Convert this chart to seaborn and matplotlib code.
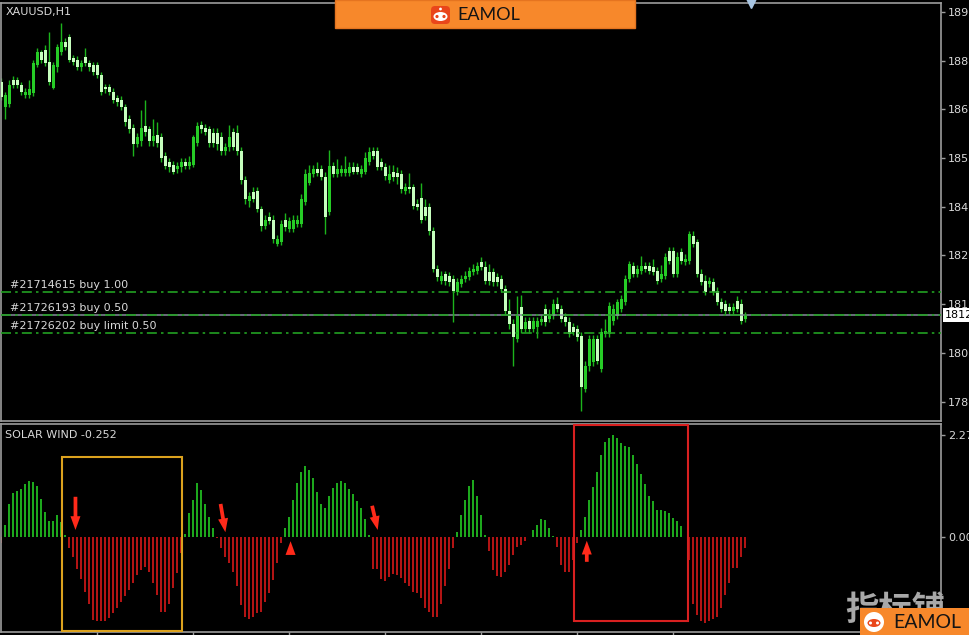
import numpy as np
import pandas as pd
import matplotlib
matplotlib.use('Agg')
import matplotlib.pyplot as plt
import matplotlib.transforms as mtransforms
from matplotlib.patches import Rectangle, FancyBboxPatch, Ellipse, Circle
import seaborn as sns

sns.set_style('dark', {'axes.facecolor': 'black', 'figure.facecolor': 'black'})
plt.rcParams['font.family'] = ['DejaVu Sans', 'Noto Sans CJK SC']

# XAUUSD H1 candles
opens = [1876.5, 1869.7, 1870.3, 1877.1, 1877.1, 1875.7, 1873.0, 1873.0, 1873.5, 1881.2,
         1884.7, 1885.3, 1882.0, 1874.9, 1880.4, 1884.7, 1887.4, 1888.8, 1883.1, 1882.5,
         1880.4, 1883.3, 1881.7, 1881.2, 1881.2, 1878.4, 1875.2, 1875.2, 1873.8, 1872.2,
         1871.6, 1869.7, 1866.2, 1864.0, 1859.4, 1860.2, 1864.3, 1863.5, 1860.2, 1862.1,
         1861.3, 1856.1, 1854.7, 1853.9, 1852.6, 1853.1, 1854.7, 1853.4, 1853.9, 1859.9,
         1864.8, 1864.0, 1863.5, 1862.6, 1862.6, 1861.3, 1857.5, 1858.6, 1862.9, 1862.6,
         1857.5, 1849.8, 1843.9, 1846.3, 1846.6, 1841.7, 1837.0, 1839.5, 1838.9, 1832.1,
         1832.7, 1838.9, 1836.2, 1836.2, 1837.6, 1837.6, 1843.6, 1849.0, 1851.2, 1852.6,
         1852.6, 1850.4, 1840.9, 1853.4, 1851.2, 1851.7, 1851.7, 1851.7, 1853.1, 1853.1,
         1851.2, 1852.0, 1854.5, 1857.5, 1857.5, 1854.5, 1853.1, 1849.8, 1852.0, 1851.7,
         1851.2, 1846.6, 1847.9, 1847.7, 1843.0, 1844.9, 1842.2, 1842.2, 1835.7, 1825.3,
         1822.1, 1824.0, 1823.4, 1822.6, 1819.1, 1821.2, 1822.6, 1823.1, 1824.5, 1824.8,
         1827.2, 1825.9, 1824.5, 1824.5, 1823.1, 1822.6, 1819.9, 1813.9, 1810.3, 1806.3,
         1815.0, 1809.0, 1811.2, 1809.0, 1809.5, 1810.9, 1814.4, 1811.7, 1812.5, 1815.8,
         1814.4, 1812.2, 1810.9, 1809.5, 1809.0, 1807.1, 1792.6, 1798.9, 1800.0, 1806.3,
         1798.1, 1807.6, 1807.6, 1811.2, 1812.5, 1814.4, 1816.3, 1822.6, 1826.1, 1824.0,
         1824.8, 1826.1, 1826.1, 1825.9, 1824.8, 1822.6, 1823.4, 1830.2, 1830.2, 1824.0,
         1830.0, 1827.2, 1827.5, 1834.3, 1832.7, 1824.0, 1822.1, 1821.2, 1821.8, 1819.3,
         1816.3, 1815.8, 1815.0, 1813.9, 1816.6, 1815.8, 1811.7]
highs = [1877.6, 1873.8, 1877.1, 1878.2, 1877.9, 1876.5, 1874.9, 1877.1, 1882.5, 1885.8,
         1885.3, 1886.6, 1890.2, 1882.0, 1886.9, 1892.6, 1888.5, 1889.6, 1883.9, 1883.6,
         1882.5, 1885.8, 1882.5, 1882.0, 1882.0, 1879.3, 1876.0, 1876.0, 1874.9, 1873.0,
         1872.7, 1870.5, 1867.3, 1865.1, 1862.4, 1868.9, 1871.6, 1864.5, 1866.2, 1865.6,
         1862.4, 1857.2, 1855.8, 1855.0, 1854.5, 1855.8, 1855.8, 1856.1, 1862.1, 1865.4,
         1865.9, 1865.1, 1864.5, 1864.0, 1864.0, 1862.9, 1859.9, 1864.8, 1864.0, 1864.8,
         1858.6, 1850.9, 1846.3, 1847.7, 1847.7, 1842.5, 1840.0, 1840.9, 1840.0, 1834.6,
         1838.9, 1840.6, 1839.5, 1840.0, 1840.0, 1845.8, 1852.6, 1853.7, 1853.9, 1854.5,
         1853.9, 1852.0, 1858.0, 1854.7, 1855.3, 1853.9, 1856.1, 1854.7, 1854.5, 1854.2,
         1853.9, 1857.2, 1858.6, 1858.8, 1858.6, 1855.8, 1854.2, 1853.9, 1853.7, 1853.1,
         1852.3, 1849.0, 1851.7, 1848.5, 1844.4, 1849.0, 1844.4, 1843.3, 1836.8, 1826.4,
         1824.8, 1824.8, 1824.5, 1823.7, 1822.9, 1823.7, 1824.8, 1825.9, 1826.7, 1827.2,
         1828.6, 1827.5, 1826.7, 1825.6, 1824.2, 1823.7, 1821.0, 1817.2, 1811.7, 1818.0,
         1818.2, 1812.2, 1812.2, 1812.2, 1812.2, 1812.8, 1815.8, 1814.4, 1817.2, 1817.7,
         1815.5, 1813.3, 1812.2, 1810.6, 1810.1, 1808.2, 1800.3, 1807.3, 1807.3, 1807.3,
         1809.3, 1811.7, 1816.3, 1815.8, 1817.2, 1818.2, 1823.7, 1827.5, 1827.2, 1826.4,
         1828.9, 1827.2, 1827.2, 1828.1, 1825.9, 1826.4, 1829.7, 1831.3, 1831.3, 1830.0,
         1831.0, 1829.4, 1835.7, 1835.7, 1833.5, 1825.3, 1823.7, 1823.1, 1822.9, 1820.4,
         1817.4, 1816.9, 1816.1, 1816.1, 1818.0, 1817.2, 1813.6]
lows = [1871.6, 1866.2, 1869.5, 1874.9, 1874.9, 1873.0, 1872.2, 1872.2, 1872.7, 1880.4,
        1881.7, 1880.9, 1875.7, 1874.4, 1879.3, 1883.9, 1885.3, 1882.0, 1881.2, 1879.8,
        1879.5, 1880.9, 1879.5, 1878.4, 1877.6, 1873.0, 1873.5, 1873.0, 1870.8, 1870.0,
        1868.9, 1864.5, 1862.4, 1856.1, 1858.6, 1859.1, 1861.8, 1859.1, 1859.1, 1858.8,
        1854.7, 1852.6, 1852.0, 1851.2, 1851.5, 1852.0, 1852.6, 1852.6, 1853.1, 1859.1,
        1862.6, 1862.1, 1858.8, 1858.8, 1858.0, 1856.6, 1856.6, 1857.5, 1858.0, 1856.6,
        1848.5, 1843.0, 1842.2, 1843.6, 1840.9, 1835.7, 1836.2, 1837.6, 1832.4, 1831.6,
        1831.9, 1835.7, 1835.4, 1835.4, 1836.8, 1836.8, 1842.8, 1848.2, 1850.4, 1850.9,
        1849.6, 1834.9, 1840.0, 1850.4, 1850.4, 1850.9, 1850.9, 1850.9, 1851.2, 1851.2,
        1850.4, 1851.2, 1853.7, 1855.3, 1852.3, 1852.3, 1849.8, 1849.0, 1849.3, 1848.5,
        1846.0, 1845.8, 1846.0, 1841.7, 1841.4, 1837.9, 1838.9, 1834.6, 1824.5, 1822.1,
        1821.2, 1821.0, 1820.7, 1810.9, 1818.2, 1820.4, 1821.8, 1822.3, 1823.7, 1824.0,
        1825.1, 1821.2, 1821.0, 1820.7, 1820.7, 1819.1, 1812.8, 1809.0, 1798.9, 1805.4,
        1807.9, 1808.2, 1807.9, 1808.2, 1806.5, 1810.1, 1809.8, 1810.9, 1811.7, 1813.6,
        1810.9, 1809.8, 1806.8, 1807.3, 1805.7, 1786.6, 1791.8, 1797.5, 1798.9, 1799.4,
        1797.3, 1806.8, 1806.8, 1810.1, 1811.7, 1813.6, 1815.5, 1821.8, 1823.1, 1823.1,
        1824.0, 1824.5, 1824.0, 1823.7, 1821.2, 1821.8, 1822.6, 1826.7, 1823.1, 1823.1,
        1826.7, 1826.4, 1826.7, 1831.3, 1823.1, 1821.0, 1818.2, 1820.4, 1818.2, 1815.5,
        1813.6, 1812.8, 1813.1, 1813.1, 1813.6, 1810.3, 1810.9]
closes = [1872.4, 1873.0, 1875.7, 1875.7, 1875.7, 1873.8, 1873.8, 1874.4, 1881.7, 1884.7,
          1882.5, 1881.7, 1876.5, 1881.2, 1886.1, 1887.4, 1886.1, 1882.5, 1882.0, 1880.6,
          1881.7, 1881.7, 1880.4, 1879.3, 1878.4, 1873.8, 1874.4, 1873.8, 1871.6, 1871.1,
          1869.7, 1865.6, 1863.5, 1859.4, 1861.3, 1864.0, 1862.9, 1860.2, 1861.6, 1859.9,
          1855.8, 1853.4, 1853.1, 1852.0, 1853.4, 1854.5, 1853.4, 1854.5, 1861.3, 1864.3,
          1863.5, 1862.9, 1859.9, 1859.9, 1859.4, 1857.5, 1858.8, 1861.3, 1858.8, 1857.5,
          1849.8, 1844.4, 1845.2, 1844.4, 1841.7, 1837.0, 1838.9, 1838.4, 1833.5, 1833.5,
          1837.6, 1836.8, 1838.4, 1838.9, 1838.9, 1844.4, 1851.2, 1851.7, 1852.6, 1851.7,
          1850.4, 1839.5, 1853.4, 1851.2, 1852.6, 1852.6, 1852.6, 1853.1, 1852.0, 1852.0,
          1852.6, 1855.8, 1857.2, 1856.1, 1853.1, 1853.1, 1850.7, 1851.2, 1850.4, 1850.4,
          1847.1, 1847.9, 1847.1, 1842.5, 1842.2, 1838.9, 1839.8, 1835.7, 1825.3, 1823.1,
          1823.4, 1822.1, 1821.8, 1819.3, 1821.8, 1822.6, 1823.4, 1824.8, 1825.3, 1826.1,
          1825.9, 1822.1, 1822.1, 1821.8, 1821.8, 1819.9, 1813.9, 1810.3, 1806.8, 1812.5,
          1809.0, 1810.9, 1809.0, 1811.2, 1811.2, 1811.7, 1810.9, 1813.1, 1815.8, 1814.4,
          1811.7, 1810.9, 1807.6, 1808.2, 1806.8, 1793.2, 1798.9, 1806.3, 1806.3, 1800.3,
          1808.2, 1808.4, 1815.2, 1814.4, 1816.3, 1817.2, 1822.6, 1826.7, 1824.0, 1825.3,
          1826.1, 1825.3, 1824.8, 1824.5, 1822.1, 1824.0, 1828.6, 1827.5, 1824.0, 1828.6,
          1827.5, 1828.1, 1834.9, 1832.1, 1824.0, 1821.8, 1819.1, 1822.1, 1819.1, 1816.3,
          1814.4, 1813.9, 1813.9, 1815.0, 1814.4, 1811.2, 1812.8]

# SOLAR WIND histogram, one value per candle
solar_wind = [-0.15, 0.27, 0.72, 0.97, 1.02, 1.06, 1.17, 1.24, 1.23, 1.14,
              0.84, 0.54, 0.35, 0.35, 0.48, 0.32, 0.04, -0.26, -0.45, -0.71,
              -0.95, -1.23, -1.51, -1.86, -1.89, -1.89, -1.88, -1.82, -1.71, -1.60,
              -1.45, -1.32, -1.19, -1.04, -0.85, -0.74, -0.67, -0.78, -1.04, -1.30,
              -1.67, -1.67, -1.49, -1.15, -0.82, -0.37, 0.05, 0.52, 0.82, 1.19,
              1.04, 0.74, 0.45, 0.20, -0.02, -0.26, -0.45, -0.59, -0.78, -1.11,
              -1.52, -1.78, -1.84, -1.78, -1.71, -1.67, -1.45, -1.26, -0.97, -0.59,
              -0.13, 0.19, 0.45, 0.82, 1.19, 1.45, 1.58, 1.49, 1.30, 1.00,
              0.74, 0.65, 0.90, 1.08, 1.19, 1.24, 1.19, 1.06, 0.95, 0.80,
              0.63, 0.39, 0.04, -0.71, -0.71, -0.95, -0.98, -0.89, -0.83, -0.85,
              -0.93, -1.03, -1.11, -1.23, -1.26, -1.37, -1.60, -1.67, -1.78, -1.78,
              -1.49, -1.11, -0.71, -0.26, 0.11, 0.48, 0.82, 1.14, 1.26, 0.91,
              0.48, 0.04, -0.33, -0.74, -0.88, -0.89, -0.78, -0.63, -0.41, -0.22,
              -0.19, -0.09, 0.00, 0.15, 0.27, 0.39, 0.37, 0.20, 0.01, -0.22,
              -0.63, -0.78, -0.78, -0.52, -0.15, 0.16, 0.45, 0.82, 1.10, 1.45,
              1.82, 2.12, 2.19, 2.27, 2.19, 2.08, 2.02, 2.01, 1.82, 1.63,
              1.39, 1.17, 0.91, 0.80, 0.59, 0.59, 0.58, 0.53, 0.41, 0.35,
              0.24, -0.01, -0.51, -1.50, -1.75, -1.89, -1.92, -1.89, -1.84, -1.78,
              -1.60, -1.30, -1.04, -0.69, -0.69, -0.46, -0.25]

price_ticks = [1895.60, 1882.30, 1869.00, 1855.70, 1842.40, 1829.10, 1815.80, 1802.50, 1789.20]
wind_ticks = [2.2740, 0.0]
time_ticks = [24, 48, 72, 96, 120, 144, 168]
order_labels = ['#21714615 buy 1.00', '#21726193 buy 0.50', '#21726202 buy limit 0.50']
order_prices = [1819.1, 1812.9, 1807.8]
bid_price = 1812.8
# arrows on the indicator: (bar from, value from, bar to, value to)
arrows = [(18.5, 0.89, 18.5, 0.15), (54.8, 0.73, 56.0, 0.10), (72.3, -0.39, 72.3, -0.10),
          (92.7, 0.69, 94.1, 0.15), (146.4, -0.56, 146.4, -0.09)]

GREEN_WICK = '#1cb41c'
BULL = '#26cc26'
BEAR = '#c6ffbe'
HIST_UP = '#1da81d'
HIST_DN = '#b21414'
TXT = '#d8d8d8'
GREY = '#9c9c9c'

W, H = 970, 635
fig = plt.figure(figsize=(9.7, 6.35), dpi=100, facecolor='black')


def px_box(x0, y0, x1, y1):
    return [x0 / W, 1 - y1 / H, (x1 - x0) / W, (y1 - y0) / H]


ax1 = fig.add_axes(px_box(0.5, 3, 941, 421))
ax2 = fig.add_axes(px_box(0.5, 424, 941, 632))

# price panel
idx = np.arange(len(closes))
o = np.array(opens)
c = np.array(closes)
up = c >= o
ax1.vlines(idx, lows, highs, color=GREEN_WICK, lw=1.0, zorder=2)
ax1.bar(idx[up], (c - o)[up], bottom=o[up], width=0.7, color=BULL, lw=0, zorder=3)
ax1.bar(idx[~up], (o - c)[~up], bottom=c[~up], width=0.7, color=BEAR, lw=0, zorder=3)

ax1.axhline(bid_price, color='#8a8aa0', lw=1.1, zorder=4)
for label, price in zip(order_labels, order_prices):
    ax1.axhline(price, color='#22a022', lw=1.2, dashes=(6, 2.5, 1.5, 2.5), zorder=5)
    ax1.annotate(label, xy=(0, price), xycoords=('axes fraction', 'data'),
                 xytext=(7, 1.5), textcoords='offset points', ha='left', va='bottom',
                 fontsize=8, color=TXT, zorder=6)

ax1.annotate(f'{bid_price:.2f}', xy=(1, bid_price), xycoords=('axes fraction', 'data'),
             xytext=(3, 0), textcoords='offset points', ha='left', va='center',
             fontsize=8, color='black', annotation_clip=False,
             bbox=dict(boxstyle='square,pad=0.15', fc='white', ec='none'))

ax1.text(5 / 941, 1 - 9 / 418, 'XAUUSD,H1', transform=ax1.transAxes,
         ha='left', va='center', fontsize=8, color=TXT)
ax1.plot([187.5], [1.0], transform=mtransforms.blended_transform_factory(ax1.transData, ax1.transAxes),
         marker='v', ms=7, color='#a9c6e3', clip_on=False, zorder=8)

ax1.set_xlim(-0.25, 235)
ax1.set_ylim(1783.9, 1898.0)
ax1.yaxis.tick_right()
ax1.set_yticks(price_ticks)
ax1.set_yticklabels([f'{t:.2f}' for t in price_ticks])
ax1.set_xticks([])

# indicator panel
wind = pd.DataFrame({'bar': idx, 'value': solar_wind})
wind['side'] = np.where(wind['value'] >= 0, 'up', 'down')
sns.barplot(data=wind, x='bar', y='value', hue='side', palette={'up': HIST_UP, 'down': HIST_DN},
            native_scale=True, dodge=False, width=0.5, errorbar=None, linewidth=0,
            saturation=1, legend=False, ax=ax2)
ax2.set(xlabel='', ylabel='')

ax2.add_patch(Rectangle((15.25, -2.10), 30.0, 3.88, fill=False, ec='#dca21e', lw=1.5, zorder=6))
ax2.add_patch(Rectangle((143.25, -1.88), 28.5, 4.38, fill=False, ec='#d82020', lw=1.5, zorder=6))
for x0, y0, x1, y1 in arrows:
    ax2.annotate('', xy=(x1, y1), xytext=(x0, y0),
                 arrowprops=dict(arrowstyle='simple,head_width=0.8,head_length=1.1,tail_width=0.3',
                                 color='#ff2a1a', lw=0, shrinkA=0, shrinkB=0, mutation_scale=9),
                 zorder=7)

ax2.text(5 / 941, 1 - 11 / 208, 'SOLAR WIND -0.252', transform=ax2.transAxes,
         ha='left', va='center', fontsize=8, color=TXT)

ax2.set_xlim(-0.25, 235)
ax2.set_ylim(-2.125, 2.513)
ax2.yaxis.tick_right()
ax2.set_yticks(wind_ticks)
ax2.set_yticklabels(['2.2740', '0.0000'])
ax2.set_xticks(time_ticks)
ax2.set_xticklabels([])

for ax in (ax1, ax2):
    ax.set_facecolor('black')
    ax.grid(False)
    for side in ax.spines.values():
        side.set_color(GREY)
        side.set_linewidth(1.2)
    ax.tick_params(axis='y', which='both', right=True, left=False, direction='out', length=3,
                   width=1, color=GREY, labelsize=8, labelcolor=TXT, pad=2)
    ax.tick_params(axis='x', which='both', bottom=True, direction='out', length=3, width=1,
                   color=GREY, labelbottom=False)

# watermarks drawn in pixel coordinates (origin top-left)
pix = mtransforms.Affine2D().scale(1 / W, -1 / H).translate(0, 1) + fig.transFigure
fig.add_artist(Rectangle((335, 0), 300, 28, transform=pix, fc='#f7882b', ec='#e57420', lw=1, zorder=20))
fig.add_artist(FancyBboxPatch((431, 6), 19, 18, boxstyle='round,pad=0,rounding_size=4',
                              transform=pix, fc='#e9461b', ec='none', zorder=21))
fig.add_artist(Ellipse((440.5, 16.5), 14, 9, transform=pix, fc='white', ec='none', zorder=22))
fig.add_artist(Circle((440.5, 9), 1.4, transform=pix, fc='white', ec='none', zorder=22))
for ex in (437, 444):
    fig.add_artist(Circle((ex, 16.5), 1.6, transform=pix, fc='#e9461b', ec='none', zorder=23))
fig.text(457 / W, 1 - 15 / H, 'EAMOL', ha='left', va='center', fontsize=13,
         color='#141414', family='Lato', zorder=24)

fig.text(895 / W, 1 - 610 / H, '指标铺', ha='center', va='center', fontsize=24,
         color='#a8a8a8', family=['Noto Sans CJK SC'], fontweight='bold', zorder=19)
fig.add_artist(Rectangle((860, 608), 112, 28, transform=pix, fc='#f7882b', ec='none', zorder=20))
fig.add_artist(Circle((874, 622), 10, transform=pix, fc='white', ec='none', zorder=21))
fig.add_artist(Ellipse((874, 623), 13, 8, transform=pix, fc='#e9461b', ec='none', zorder=22))
for ex in (870.5, 877.5):
    fig.add_artist(Circle((ex, 623), 1.5, transform=pix, fc='white', ec='none', zorder=23))
fig.text(893 / W, 1 - 622 / H, 'EAMOL', ha='left', va='center', fontsize=14,
         color='#141414', family='Lato', zorder=24)

fig.savefig('out.png', dpi=100, facecolor='black')
